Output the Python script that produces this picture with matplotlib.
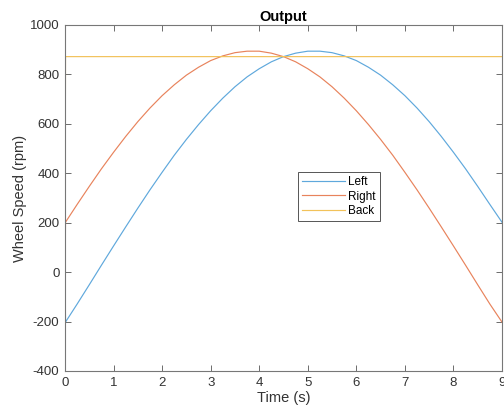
import matplotlib.pyplot as plt

plt.rcParams['font.family'] = ['Liberation Sans', 'DejaVu Sans']
plt.rcParams['axes.unicode_minus'] = False

# time samples (s); the first sample is the start value at t=0
time = [0, 0.01, 0.25, 0.5, 0.75, 1, 1.25, 1.5, 1.75, 2, 2.25, 2.5, 2.75, 3, 3.25, 3.5, 3.75,
        4, 4.25, 4.5, 4.75, 5, 5.25, 5.5, 5.75, 6, 6.25, 6.5, 6.75, 7, 7.25, 7.5, 7.75,
        8, 8.25, 8.5, 8.75, 9]
left = [0, -202, -129, -51, 28, 106, 183, 259, 333, 404, 473, 537, 597, 653, 704, 750, 790,
        823, 851, 872, 886, 894, 894, 888, 875, 856, 829, 797, 758, 714, 664, 609, 549,
        485, 418, 347, 274, 202]
right = [0, 202, 274, 347, 418, 485, 549, 609, 664, 714, 758, 797, 829, 856, 875, 888, 894,
         894, 886, 872, 851, 823, 790, 750, 704, 653, 597, 537, 473, 404, 333, 259, 183,
         106, 28, -51, -129, -202]
back = [0] + [872] * 37

fig = plt.figure(figsize=(5.04, 4.13), dpi=100)
ax = fig.add_axes([0.129, 0.1017, 0.867, 0.8378])

ax.plot(time, left, color='#5fa8dc', lw=0.85, label='Left')
ax.plot(time, right, color='#e8835c', lw=0.85, label='Right')
ax.plot(time, back, color='#f2c25a', lw=0.85, label='Back')

ax.set_xlim(0, 9)
ax.set_ylim(-400, 1000)
ax.set_xticks(range(0, 10))
ax.set_yticks(range(-400, 1001, 200))
ax.tick_params(direction='in', top=True, right=True, length=4, width=0.6,
               color='#555555', labelcolor='#333333', labelsize=9.5, pad=4)
for s in ax.spines.values():
    s.set_color('#777777')
    s.set_linewidth(0.8)

ax.set_title('Output', fontsize=10.5, fontweight='bold', pad=3)
ax.set_xlabel('Time (s)', fontsize=10.5, color='#333333', labelpad=2)
ax.set_ylabel('Wheel Speed (rpm)', fontsize=10.5, color='#333333', labelpad=2)

leg = ax.legend(loc='upper left', bbox_to_anchor=(0.533, 0.575), fontsize=8.5,
                fancybox=False, framealpha=1, edgecolor='#555555',
                handlelength=3.6, handletextpad=0.3, borderpad=0.35,
                labelspacing=0.2, borderaxespad=0)
leg.get_frame().set_linewidth(0.7)

fig.savefig('out.png', dpi=100)
